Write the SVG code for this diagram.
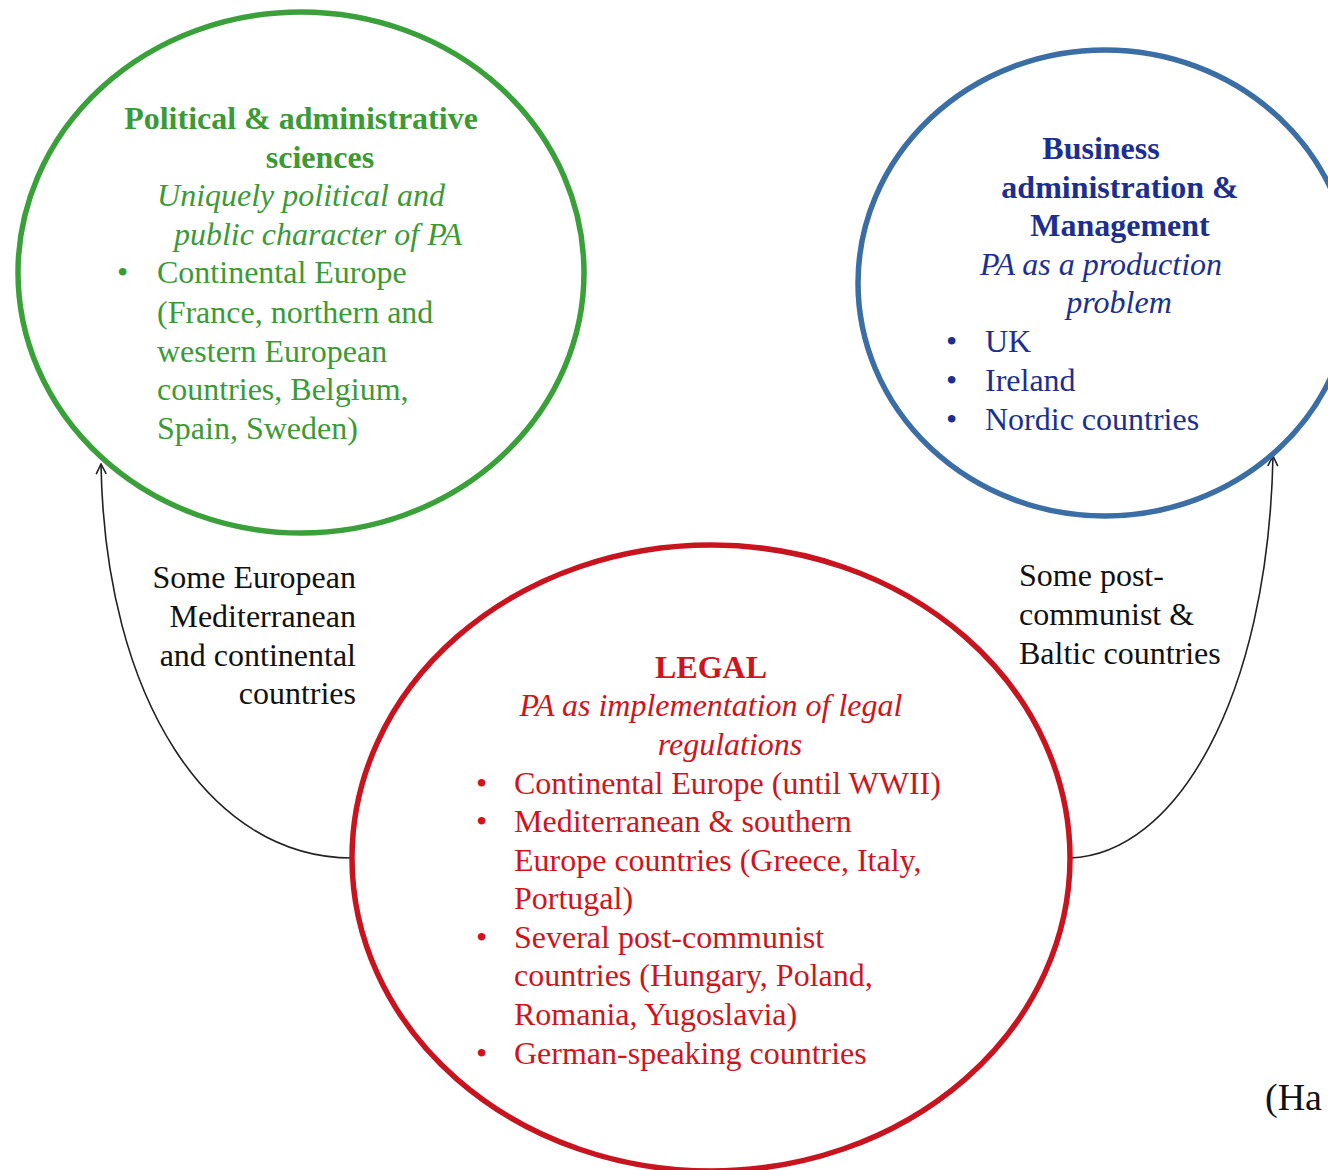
<svg xmlns="http://www.w3.org/2000/svg" width="1328" height="1170" viewBox="0 0 1328 1170">
<defs>
<style>
text{font-family:"Liberation Serif","Times New Roman",serif;font-size:32px}
.b{font-weight:bold}
.i{font-style:italic}
.m{text-anchor:middle}
.e{text-anchor:end}
.g{fill:#3a9a35}
.bl{fill:#1c2f91}
.r{fill:#d0141c}
.k{fill:#111}
.ring{fill:none;stroke-width:5.5}
.conn{fill:none;stroke:#222;stroke-width:1.6}
</style>
<marker id="arr" viewBox="0 0 12 12" refX="11" refY="6" markerWidth="12" markerHeight="12" markerUnits="userSpaceOnUse" orient="auto">
<path d="M1,1 L11,6 L1,11" fill="none" stroke="#222" stroke-width="1.6"/>
</marker>
</defs>
<rect width="1328" height="1170" fill="#fff"/>
<g id="connectors">
<path class="conn" d="M352,858 C210,858 105,700 101,464" marker-end="url(#arr)"/>
<path class="conn" d="M1070,858 C1175,855 1268,700 1273,456" marker-end="url(#arr)"/>
</g>
<g id="node-political">
<ellipse class="ring" cx="301" cy="272.5" rx="283" ry="260.5" stroke="#3aa03a"/>
<text class="b g m" x="301" y="129">Political &amp; administrative</text>
<text class="b g m" x="320" y="168">sciences</text>
<text class="i g m" x="301" y="206">Uniquely political and</text>
<text class="i g m" x="318" y="245">public character of PA</text>
<text class="g" x="117" y="283">•</text>
<text class="g" x="157" y="283">Continental Europe</text>
<text class="g" x="157" y="323">(France, northern and</text>
<text class="g" x="157" y="362">western European</text>
<text class="g" x="157" y="400">countries, Belgium,</text>
<text class="g" x="157" y="439">Spain, Sweden)</text>
</g>
<g id="node-business">
<ellipse class="ring" cx="1105" cy="283" rx="247" ry="233" stroke="#3b6ea5"/>
<text class="b bl m" x="1101" y="159">Business</text>
<text class="b bl m" x="1120" y="198">administration &amp;</text>
<text class="b bl m" x="1120" y="236">Management</text>
<text class="i bl m" x="1101" y="275">PA as a production</text>
<text class="i bl m" x="1119" y="313">problem</text>
<text class="bl" x="946" y="352">•</text>
<text class="bl" x="985" y="352">UK</text>
<text class="bl" x="946" y="391">•</text>
<text class="bl" x="985" y="391">Ireland</text>
<text class="bl" x="946" y="430">•</text>
<text class="bl" x="985" y="430">Nordic countries</text>
</g>
<g id="node-legal">
<ellipse class="ring" cx="711" cy="858" rx="359" ry="313" stroke="#c8141e"/>
<text class="b r m" x="711" y="678">LEGAL</text>
<text class="i r m" x="711" y="716">PA as implementation of legal</text>
<text class="i r m" x="730" y="755">regulations</text>
<text class="r" x="476" y="794">•</text>
<text class="r" x="514" y="794">Continental Europe (until WWII)</text>
<text class="r" x="476" y="832">•</text>
<text class="r" x="514" y="832">Mediterranean &amp; southern</text>
<text class="r" x="514" y="871">Europe countries (Greece, Italy,</text>
<text class="r" x="514" y="909">Portugal)</text>
<text class="r" x="476" y="948">•</text>
<text class="r" x="514" y="948">Several post-communist</text>
<text class="r" x="514" y="986">countries (Hungary, Poland,</text>
<text class="r" x="514" y="1025">Romania, Yugoslavia)</text>
<text class="r" x="476" y="1064">•</text>
<text class="r" x="514" y="1064">German-speaking countries</text>
</g>
<g id="label-left">
<text class="k e" x="356" y="588">Some European</text>
<text class="k e" x="356" y="627">Mediterranean</text>
<text class="k e" x="356" y="666">and continental</text>
<text class="k e" x="356" y="704">countries</text>
</g>
<g id="label-right">
<text class="k" x="1019" y="586">Some post-</text>
<text class="k" x="1019" y="625">communist &amp;</text>
<text class="k" x="1019" y="664">Baltic countries</text>
</g>
<text x="1265" y="1110" style="font-size:38px" fill="#111">(Ha</text>
</svg>
